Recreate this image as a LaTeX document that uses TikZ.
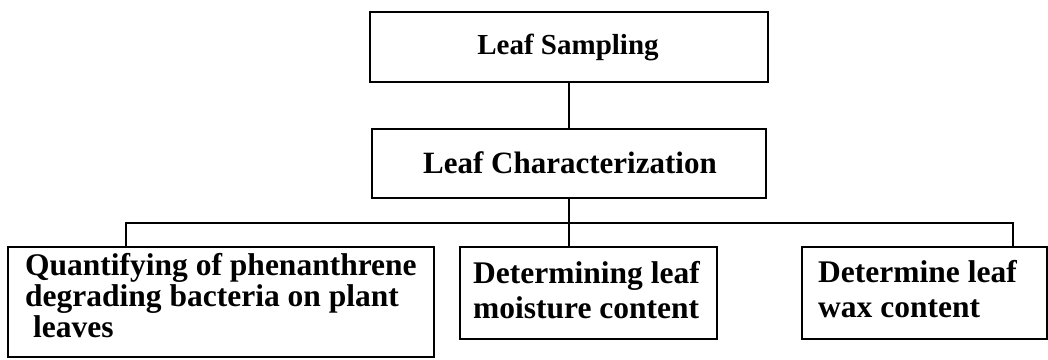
\documentclass[tikz,border=0pt]{standalone}
\usepackage{fontspec}
\setmainfont{Liberation Serif}
\begin{document}
\begin{tikzpicture}[x=1pt,y=-1pt,
  box/.style={draw,line width=1.5pt,rectangle,inner sep=0pt},
  link/.style={line width=1.5pt},
  head/.style={inner sep=0pt,anchor=base,font=\bfseries\fontsize{30}{34}\selectfont},
  lbl/.style={inner sep=0pt,anchor=base west,font=\bfseries\fontsize{31.5}{34}\selectfont}]
\useasboundingbox (0,0) rectangle (1048,359);
% boxes
\node[box,minimum width=398pt,minimum height=70pt] (samp) at (569,47) {};
\node[box,minimum width=394pt,minimum height=69pt] (char) at (569,163.5) {};
\node[box,minimum width=426pt,minimum height=110pt] (quant) at (221,302) {};
\node[box,minimum width=257pt,minimum height=92pt] (moist) at (588.5,293) {};
\node[box,minimum width=245pt,minimum height=92pt] (wax) at (924.5,293) {};
% headings
\node[head,font=\bfseries\fontsize{29}{32}\selectfont] (tsamp) at (568,54) {Leaf Sampling};
\node[head,font=\bfseries\fontsize{31}{34}\selectfont] (tchar) at (570,173) {Leaf Characterization};
% box texts, one node per printed line
\node[lbl] (tq1) at (25,275) {Quantifying of phenanthrene};
\node[lbl] (tq2) at (25,306) {degrading bacteria on plant};
\node[lbl] (tq3) at (25,337) {\ leaves};
\node[lbl] (tm1) at (473,283) {Determining leaf};
\node[lbl] (tm2) at (473,318) {moisture content};
\node[lbl] (tw1) at (818,282) {Determine leaf};
\node[lbl] (tw2) at (818,317) {wax content};
% connectors
\coordinate (bar) at (569,223);
\coordinate (qstub) at (126,247);
\coordinate (wstub) at (1013,247);
\draw[link] (samp.south) -- (char.north);
\draw[link] (char.south) -- (bar);
\draw[link] (bar) -- (bar |- moist.north);
\draw[link] (bar) -| (qstub);
\draw[link] (bar) -| (wstub);
\end{tikzpicture}
\end{document}
